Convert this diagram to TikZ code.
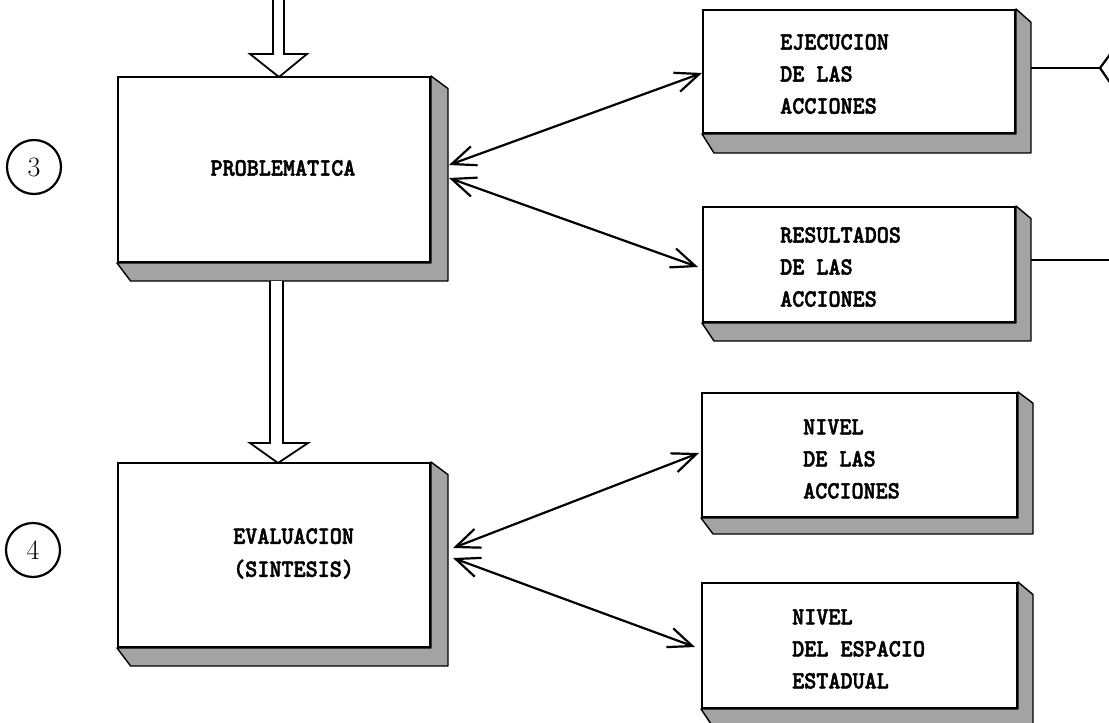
\documentclass[tikz,border=0pt]{standalone}
\usepackage{fontspec}
\usepackage{graphicx}
\IfFontExistsTF{lmmonolt10-bold.otf}
  {\newfontfamily\twfont{lmmonolt10-bold.otf}[FakeBold=2]\newcommand\twsize{\fontsize{23}{32}\selectfont}\newcommand\twscale{1.08}}
  {\newfontfamily\twfont{Liberation Mono}[FakeBold=1.5]\newcommand\twsize{\fontsize{20}{32}\selectfont}\newcommand\twscale{1.3}}
\usetikzlibrary{arrows.meta,calc}
\newcommand\tw[1]{\scalebox{1}[\twscale]{#1}}
\newcommand\dropshadow[3]{%
  \filldraw[shadowfill] (#1.north east) -- ($(#1.north east)+(#2,#3*0.7)$) -- ($(#1.south east)+(#2,#3)$) -- ($(#1.south west)+(#2*0.8,#3)$) -- (#1.south west) -- (#1.south east) -- cycle;}
\begin{document}
\begin{tikzpicture}[x=1pt,y=-1pt,
  box/.style={draw,line width=2pt,fill=white,inner sep=0pt},
  txt/.style={font=\twfont\twsize,align=left,inner sep=0pt},
  dbl/.style={line width=2.2pt,{Straight Barb[length=24pt,width=20pt]}-{Straight Barb[length=24pt,width=20pt]}},
  conn/.style={line width=2.2pt},
  blk/.style={line width=1.8pt,fill=white,line join=miter},
  num/.style={circle,draw,line width=2.2pt,minimum size=54pt,inner sep=0pt,font=\fontsize{28}{28}\selectfont},
  shadowfill/.style={fill=black!36,draw=black,line width=1.4pt,line join=round}]
\useasboundingbox (0,0) rectangle (1109,723);

% boxes
\node[box,minimum width=312pt,minimum height=185pt] (prob) at (274,169.5) {};
\node[box,minimum width=312pt,minimum height=184pt] (eval) at (274,555) {};
\node[box,minimum width=312pt,minimum height=123pt] (ejec) at (859,71.5) {};
\node[box,minimum width=312pt,minimum height=115pt] (resul) at (859,264.5) {};
\node[box,minimum width=315pt,minimum height=124pt] (niv1) at (859.5,455) {};
\node[box,minimum width=315pt,minimum height=125pt] (niv2) at (859.5,645.5) {};

% drop shadows
\dropshadow{prob}{17}{18}
\dropshadow{eval}{17}{18}
\dropshadow{ejec}{15}{19}
\dropshadow{resul}{15}{18}
\dropshadow{niv1}{15}{16}
\dropshadow{niv2}{15}{18}

% texts
\node[txt] (tprob) at (283,168) {\tw{PROBLEMATICA}};
\node[txt,anchor=west] (teval) at (233,553.5) {\tw{EVALUACION}\\[1pt]\tw{(SINTESIS)}};
\node[txt,anchor=west] (tejec) at (780,74) {\tw{EJECUCION}\\\tw{DE LAS}\\\tw{ACCIONES}};
\node[txt,anchor=west] (tresul) at (780,267) {\tw{RESULTADOS}\\\tw{DE LAS}\\\tw{ACCIONES}};
\node[txt,anchor=west] (tniv1) at (803,459) {\tw{NIVEL}\\\tw{DE LAS}\\\tw{ACCIONES}};
\node[txt,anchor=west] (tniv2) at (792,649) {\tw{NIVEL}\\\tw{DEL ESPACIO}\\\tw{ESTADUAL}};

% numbered circles
\node[num] (c3) at (34,167) {3};
\node[num] (c4) at (33,550) {4};

% block arrows
\draw[blk] (273,-3) -- (273,54) -- (250,54) -- (279,77) -- (307,54) -- (284,54) -- (284,-3);
\draw[blk] (270,281) -- (270,443) -- (250,443) -- (278,463) -- (308,443) -- (283,443) -- (283,281);

% double arrows
\draw[dbl] ([xshift=18pt,yshift=4.5pt]prob.east) -- ([yshift=-1.5pt]ejec.west);
\draw[dbl] ([xshift=18pt,yshift=-8.5pt]prob.east) -- ([xshift=-4pt,yshift=-2.5pt]resul.west);
\draw[dbl] ([xshift=22pt,yshift=7pt]eval.east) -- ([xshift=-2pt,yshift=2pt]niv1.west);
\draw[dbl] ([xshift=22pt,yshift=-3pt]eval.east) -- ([xshift=-6pt,yshift=-1.5pt]niv2.west);

% right side connectors
\coordinate (hexl) at (1100,68);
\coordinate (rout) at (1115,260);
\draw[conn] ([xshift=15pt,yshift=3.5pt]ejec.east) -- (hexl);
\draw[conn,line join=miter] (1122,38) -- (hexl) -- (1122,100);
\draw[conn] ([xshift=15pt,yshift=4.5pt]resul.east) -- (rout);
\end{tikzpicture}
\end{document}
